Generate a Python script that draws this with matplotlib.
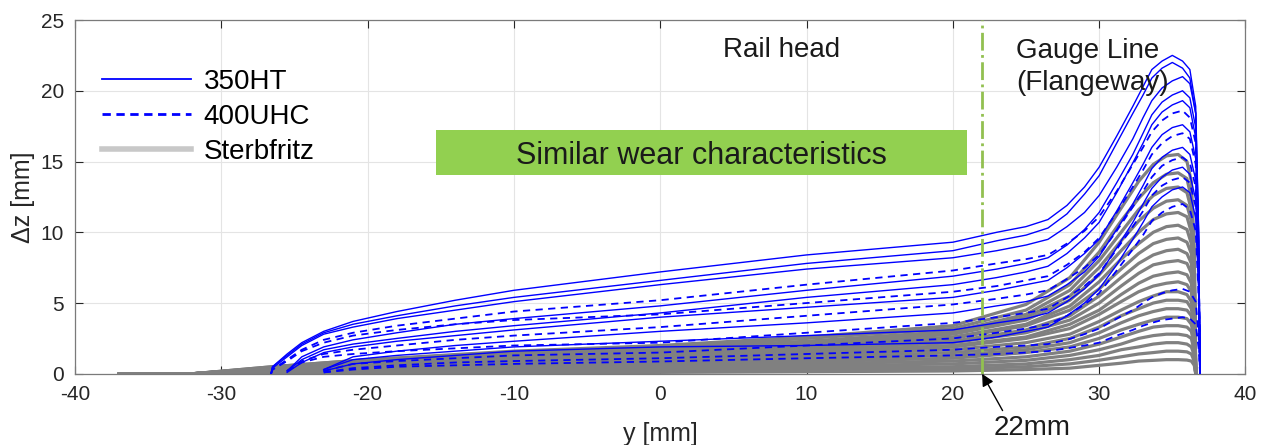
import numpy as np
import matplotlib
matplotlib.use("Agg")
import matplotlib.pyplot as plt
from matplotlib.lines import Line2D
from matplotlib.patches import Rectangle

plt.rcParams['font.family'] = ['Liberation Sans', 'DejaVu Sans']
plt.rcParams['axes.unicode_minus'] = False

nan = float('nan')

# ---- data -------------------------------------------------------------
# lateral positions (mm) of the read key points for the blue curves
y_blue = [-26.6, -26.5, -25.5, -24.5, -23, -21, -18, -14, -10, 0, 10, 20,
          23, 25, 26.5, 27.8, 29, 30, 31.2, 32.3, 33.0, 33.6, 34.3, 35.0,
          35.7, 36.2, 36.6, 36.8, 36.9]

ht350 = [
    [0, 0.5, 1.4, 2.2, 3.0, 3.7, 4.4, 5.2, 5.9, 7.2, 8.4, 9.3,
     10.0, 10.4, 10.9, 11.9, 13.2, 14.6, 16.8, 18.9, 20.3, 21.5, 22.1, 22.5, 22.1, 21.5, 18.9, 10.0, 0],
    [0, 0.5, 1.3, 2.1, 2.9, 3.5, 4.1, 4.8, 5.4, 6.6, 7.8, 8.7,
     9.4, 9.8, 10.3, 11.3, 12.7, 14.0, 16.3, 18.4, 19.7, 20.9, 21.6, 22.0, 21.6, 20.9, 18.4, 10.0, 0],
    [0, 0.4, 1.2, 2.0, 2.8, 3.3, 3.9, 4.5, 5.1, 6.3, 7.4, 8.2,
     8.7, 9.1, 9.5, 10.4, 11.4, 12.6, 14.6, 16.6, 18.1, 19.3, 20.2, 20.7, 21.0, 20.5, 18.4, 9.5, 0],
    [nan, nan, 0.2, 1.2, 1.9, 2.4, 2.9, 3.5, 3.9, 4.8, 5.9, 6.9,
     7.4, 7.8, 8.2, 9.1, 10.2, 11.4, 13.5, 15.5, 17.0, 18.3, 19.2, 19.7, 20.0, 19.5, 17.4, 9.0, 0],
    [nan, nan, 0.2, 1.0, 1.7, 2.1, 2.5, 3.0, 3.4, 4.3, 5.4, 6.3,
     6.8, 7.2, 7.6, 8.5, 9.6, 10.7, 12.8, 14.9, 16.3, 17.6, 18.5, 19.0, 19.3, 18.8, 16.7, 8.7, 0],
    [nan, nan, 0.1, 0.8, 1.5, 1.9, 2.3, 2.7, 3.1, 4.0, 4.7, 5.4,
     5.9, 6.3, 6.6, 7.5, 8.5, 9.5, 11.5, 13.5, 14.8, 16.0, 16.9, 17.4, 17.6, 17.1, 15.2, 8.0, 0],
    [nan, nan, nan, nan, 0.3, 1.2, 1.6, 2.0, 2.3, 3.0, 3.6, 4.3,
     4.8, 5.1, 5.5, 6.3, 7.2, 8.3, 10.2, 12.0, 13.3, 14.5, 15.3, 15.8, 16.0, 15.5, 13.7, 7.2, 0],
    [nan, nan, nan, nan, 0.3, 1.0, 1.3, 1.6, 1.9, 2.3, 2.7, 3.1,
     3.6, 3.9, 4.3, 5.1, 6.0, 7.0, 8.9, 10.7, 12.0, 13.1, 13.9, 14.4, 14.6, 14.1, 12.3, 6.6, 0],
    [nan, nan, nan, nan, 0.2, 0.7, 1.0, 1.3, 1.6, 1.9, 2.0, 2.2,
     2.6, 3.0, 3.3, 4.1, 5.0, 6.0, 7.7, 9.5, 10.7, 11.8, 12.5, 13.0, 13.2, 12.8, 11.0, 6.0, 0],
]

uhc400 = [
    [0, 0.3, 1.0, 1.7, 2.4, 2.9, 3.4, 3.9, 4.4, 5.2, 6.3, 7.3,
     7.8, 8.1, 8.4, 9.2, 10.1, 11.1, 12.9, 14.8, 16.0, 17.1, 17.9, 18.4, 18.6, 18.1, 16.3, 8.4, 0],
    [0, 0.3, 0.9, 1.6, 2.2, 2.7, 3.1, 3.5, 3.8, 4.2, 5.0, 5.8,
     6.2, 6.6, 6.9, 7.7, 8.6, 9.6, 11.4, 13.2, 14.4, 15.5, 16.3, 16.8, 17.0, 16.6, 14.8, 7.7, 0],
    [nan, nan, 0.2, 0.9, 1.4, 1.7, 2.0, 2.4, 2.7, 3.3, 4.1, 4.9,
     5.3, 5.6, 5.9, 6.7, 7.5, 8.4, 10.1, 11.8, 12.9, 13.9, 14.7, 15.1, 15.3, 14.9, 13.2, 6.9, 0],
    [nan, nan, 0.2, 0.8, 1.2, 1.4, 1.6, 1.8, 2.0, 2.2, 2.9, 3.6,
     4.0, 4.3, 4.6, 5.4, 6.2, 7.1, 8.8, 10.4, 11.5, 12.6, 13.3, 13.7, 13.9, 13.5, 11.8, 6.3, 0],
    [nan, nan, nan, nan, 0.2, 0.7, 0.9, 1.1, 1.3, 1.5, 2.0, 2.5,
     2.9, 3.2, 3.5, 4.1, 4.9, 5.7, 7.3, 8.8, 9.8, 10.8, 11.4, 11.8, 12.0, 11.6, 10.1, 5.4, 0],
    [nan, nan, nan, nan, 0.1, 0.4, 0.6, 0.8, 0.9, 1.1, 1.4, 1.7,
     1.9, 2.0, 2.1, 2.4, 2.8, 3.2, 3.9, 4.5, 5.0, 5.4, 5.7, 5.9, 6.0, 5.8, 5.1, 2.7, 0],
    [nan, nan, nan, nan, 0.1, 0.3, 0.5, 0.6, 0.7, 0.87, 1.1, 1.3,
     1.4, 1.5, 1.6, 1.8, 2.0, 2.2, 2.7, 3.1, 3.4, 3.6, 3.8, 3.9, 4.0, 3.9, 3.5, 1.8, 0],
]

# key points for the grey (Sterbfritz) curves
y_grey = [-37, -32, -26.5, -20, -10, 0, 10, 20, 25, 28, 30, 31.5, 32.7, 33.7,
          34.6, 35.4, 36.0, 36.3, 36.5, 36.6]

sterbfritz = [
    [0, 0, 0.5, 1.0, 1.6, 2.0, 2.6, 3.4, 4.9, 6.8, 9.3, 11.7, 13.6, 14.8, 15.4, 15.5, 15.0, 13.6, 8.8, 0],
    [0, 0, 0.5, 1.0, 1.5, 1.9, 2.5, 3.2, 4.5, 6.3, 8.6, 10.8, 12.4, 13.5, 14.1, 14.2, 13.8, 12.4, 8.2, 0],
    [0, 0, 0.45, 0.9, 1.4, 1.8, 2.3, 3.0, 4.2, 5.9, 8.0, 10.0, 11.6, 12.6, 13.1, 13.2, 12.8, 11.6, 7.6, 0],
    [0, 0, 0.45, 0.9, 1.4, 1.7, 2.2, 2.9, 4.0, 5.5, 7.5, 9.4, 10.8, 11.7, 12.2, 12.3, 11.9, 10.8, 7.1, 0],
    [0, 0, 0.4, 0.85, 1.3, 1.7, 2.1, 2.8, 3.8, 5.2, 7.0, 8.7, 10.0, 10.9, 11.3, 11.4, 11.1, 10.0, 6.7, 0],
    [0, 0, 0.4, 0.8, 1.2, 1.6, 2.0, 2.6, 3.5, 4.8, 6.5, 8.1, 9.2, 10.0, 10.4, 10.5, 10.2, 9.2, 6.2, 0],
    [0, 0, 0.4, 0.75, 1.2, 1.5, 1.9, 2.5, 3.4, 4.5, 6.0, 7.4, 8.5, 9.2, 9.5, 9.6, 9.3, 8.5, 5.7, 0],
    [0, 0, 0.35, 0.7, 1.1, 1.4, 1.8, 2.3, 3.1, 4.1, 5.5, 6.8, 7.8, 8.4, 8.7, 8.8, 8.5, 7.8, 5.2, 0],
    [0, 0, 0.35, 0.65, 1.0, 1.3, 1.7, 2.2, 2.9, 3.8, 5.0, 6.2, 7.1, 7.7, 7.9, 8.0, 7.8, 7.1, 4.8, 0],
    [0, 0, 0.3, 0.6, 0.95, 1.2, 1.55, 2.0, 2.6, 3.5, 4.5, 5.6, 6.4, 6.9, 7.1, 7.2, 7.0, 6.4, 4.3, 0],
    [0, 0, 0.3, 0.55, 0.9, 1.1, 1.45, 1.9, 2.5, 3.2, 4.2, 5.1, 5.8, 6.2, 6.4, 6.5, 6.3, 5.8, 4.0, 0],
    [0, 0, 0.25, 0.5, 0.8, 1.0, 1.3, 1.7, 2.2, 2.8, 3.7, 4.5, 5.1, 5.5, 5.8, 5.8, 5.6, 5.1, 3.5, 0],
    [0, 0, 0.25, 0.45, 0.7, 0.9, 1.15, 1.5, 1.9, 2.5, 3.3, 4.1, 4.6, 5.0, 5.2, 5.2, 5.1, 4.6, 3.2, 0],
    [0, 0, 0.2, 0.4, 0.6, 0.8, 1.0, 1.3, 1.7, 2.2, 2.9, 3.6, 4.1, 4.4, 4.6, 4.6, 4.5, 4.1, 2.8, 0],
    [0, 0, 0.2, 0.35, 0.5, 0.65, 0.85, 1.1, 1.5, 1.9, 2.5, 3.1, 3.5, 3.8, 4.0, 4.0, 3.9, 3.5, 2.4, 0],
    [0, 0, 0.15, 0.3, 0.4, 0.55, 0.7, 0.9, 1.2, 1.6, 2.1, 2.6, 3.0, 3.3, 3.4, 3.4, 3.3, 3.0, 2.0, 0],
    [0, 0, 0.1, 0.2, 0.3, 0.4, 0.55, 0.7, 0.95, 1.3, 1.7, 2.1, 2.5, 2.7, 2.8, 2.8, 2.7, 2.5, 1.6, 0],
    [0, 0, 0.1, 0.15, 0.2, 0.3, 0.4, 0.5, 0.7, 1.0, 1.3, 1.7, 1.9, 2.1, 2.2, 2.2, 2.1, 1.9, 1.3, 0],
    [0, 0, 0.05, 0.1, 0.15, 0.2, 0.28, 0.35, 0.5, 0.7, 0.96, 1.2, 1.4, 1.5, 1.6, 1.6, 1.55, 1.4, 0.9, 0],
    [0, 0, 0.03, 0.05, 0.08, 0.1, 0.15, 0.2, 0.3, 0.4, 0.6, 0.75, 0.9, 0.95, 1.0, 1.0, 0.97, 0.9, 0.6, 0],
]

legend_labels = ["350HT", "400UHC", "Sterbfritz"]
x_ticks = [-40, -30, -20, -10, 0, 10, 20, 30, 40]
y_ticks = [0, 5, 10, 15, 20, 25]
gauge_y = 22
# highlighted band "Similar wear characteristics": y-range and Δz-range
band_y = (-15.3, 21.0)
band_z = (14.05, 17.2)

# ---- figure -----------------------------------------------------------
fig = plt.figure(figsize=(12.67, 4.45), dpi=100)
ax = fig.add_axes([0.0592, 0.160, 0.9238, 0.795])

BLUE = '#0000ff'
GREY = '#808080'
GREEN = '#92c050'
TXT = '#1a1a1a'

for row in sterbfritz:
    ax.plot(y_grey, row, color=GREY, lw=2.3, solid_joinstyle='round',
            solid_capstyle='round', zorder=2)
for row in ht350:
    ax.plot(y_blue, row, color=BLUE, lw=1.0, zorder=3)
for row in uhc400:
    ax.plot(y_blue, row, color=BLUE, lw=1.3, ls=(0, (4, 3)), zorder=3)

ax.set_xlim(x_ticks[0], x_ticks[-1])
ax.set_ylim(y_ticks[0], y_ticks[-1])
ax.set_xticks(x_ticks)
ax.set_yticks(y_ticks)
ax.grid(True, color='#e4e4e4', lw=0.8, zorder=0)
ax.set_axisbelow(True)
ax.tick_params(direction='in', top=True, right=True, length=6, width=0.8,
               labelsize=15, colors='#262626', pad=8)
for s in ax.spines.values():
    s.set_color('#7a7a7a')
    s.set_linewidth(0.9)

ax.set_xlabel('y [mm]', fontsize=18, color='#262626', labelpad=13)
ax.set_ylabel('Δz [mm]', fontsize=18, color='#262626', labelpad=4)

# gauge line
ax.axvline(gauge_y, color=GREEN, lw=2.0, ls='-.', zorder=4)

# green band with text
ax.add_patch(Rectangle((band_y[0], band_z[0]), band_y[1] - band_y[0],
                       band_z[1] - band_z[0], fc='#92d050', ec='none', zorder=5))
ax.text(sum(band_y) / 2, sum(band_z) / 2, 'Similar wear characteristics',
        fontsize=22, ha='center', va='center_baseline', color=TXT, zorder=6)

ax.text(8.3, 22.9, 'Rail head', fontsize=20, ha='center', va='center', color=TXT)
ax.text(24.3, 23.7, 'Gauge Line\n(Flangeway)', fontsize=20, ha='left', va='top',
        color=TXT, linespacing=1.3, zorder=6)

ax.text(25.4, -3.8, '22mm', fontsize=20, ha='center', va='center', color=TXT,
        clip_on=False)
ax.annotate('', xy=(gauge_y, 0), xytext=(23.4, -2.6), textcoords='data',
            annotation_clip=False,
            arrowprops=dict(arrowstyle='-|>', color='black', lw=1.0,
                            mutation_scale=18, shrinkA=0, shrinkB=0))

handles = [Line2D([], [], color=BLUE, lw=1.3),
           Line2D([], [], color=BLUE, lw=2.0, ls=(0, (3, 2))),
           Line2D([], [], color='#c8c8c8', lw=4)]
ax.legend(handles, legend_labels, loc='upper left', bbox_to_anchor=(0.023, 0.862),
          frameon=False, fontsize=20, handlelength=3.2, handletextpad=0.47,
          labelspacing=0.32, borderpad=0, borderaxespad=0)

fig.savefig('out.png', dpi=100)
